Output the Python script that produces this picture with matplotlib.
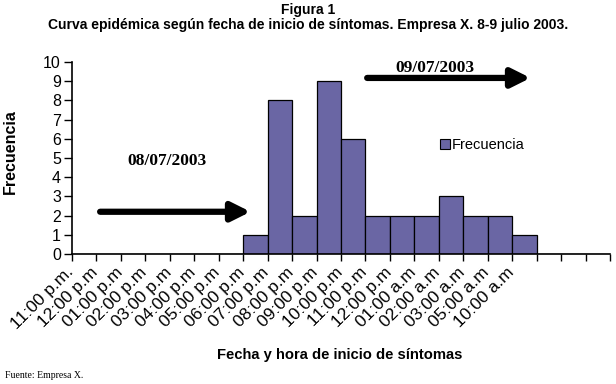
import matplotlib
matplotlib.use("Agg")
import matplotlib.pyplot as plt
import matplotlib.transforms as mtransforms
from matplotlib.patches import Patch

categories = ["11:00 p.m.", "12:00 p.m", "01:00 p.m", "02:00 p.m", "03:00 p.m",
              "04:00 p.m", "05:00 p.m", "06:00 p.m", "07:00 p.m", "08:00 p.m",
              "09:00 p.m", "10:00 p.m", "11:00 p.m", "12:00 p.m", "01:00 a.m",
              "02:00 a.m", "03:00 a.m", "05:00 a.m", "10:00 a.m", "", "", ""]
frecuencia = [0, 0, 0, 0, 0, 0, 0, 1, 8, 2, 9, 6, 2, 2, 2, 3, 2, 2, 1, 0, 0, 0]
yticks = list(range(0, 11))

bar_color = "#6a66a4"
sans = ["Liberation Sans", "DejaVu Sans"]
serif = ["Liberation Serif", "DejaVu Serif"]

fig = plt.figure(figsize=(6.16, 3.84), dpi=100)
ax = fig.add_axes([72/616, 1-254/384, 538/616, 192/384])

x = list(range(len(categories)))
ax.bar(x, frecuencia, width=1.0, color=bar_color, edgecolor="black", linewidth=0.9)

ax.set_xlim(-0.5, len(categories) - 0.5)
ax.set_ylim(0, 10)
ax.set_yticks(yticks)
ax.set_yticklabels([str(v) for v in yticks], family=sans, fontsize=11.5)
ax.set_xticks([i - 0.5 for i in range(len(categories) + 1)])
ax.set_xticklabels([])
ax.set_xticks(x, minor=True)
ax.set_xticklabels(categories, minor=True, rotation=45, ha="right", va="baseline",
                   rotation_mode="anchor", family=sans, fontsize=12.5)
ax.tick_params(axis="x", which="major", direction="out", length=5, width=1)
ax.tick_params(axis="x", which="minor", length=0, pad=0)
ax.tick_params(axis="y", direction="out", length=6, width=1, pad=2)

offset = mtransforms.ScaledTranslation(-10/100, -19/100, fig.dpi_scale_trans)
for lbl in ax.get_xticklabels(minor=True):
    lbl.set_transform(lbl.get_transform() + offset)

for s in ["top", "right"]:
    ax.spines[s].set_visible(False)
for s in ["left", "bottom"]:
    ax.spines[s].set_linewidth(1.2)

fig.text(0.5, 1-10/384, "Figura 1", ha="center", va="center", family=sans,
         fontweight="bold", fontsize=10)
fig.text(0.5, 1-25/384, "Curva epidémica según fecha de inicio de síntomas. Empresa X. 8-9 julio 2003.",
         ha="center", va="center", family=sans, fontweight="bold", fontsize=10)

fig.text(10/616, 1-152/384, "Frecuencia", rotation=90, ha="center", va="center",
         family=sans, fontweight="bold", fontsize=11.5)
fig.text(340/616, 1-355/384, "Fecha y hora de inicio de síntomas", ha="center", va="center",
         family=sans, fontweight="bold", fontsize=10.6)
fig.text(5/616, 1-376/384, "Fuente: Empresa X.", ha="left", va="center", family=serif, fontsize=7)

ax.text(3.39, 4.84, "08/07/2003", ha="center", va="center", family=serif,
        fontweight="bold", fontsize=12.5)
ax.text(14.35, 9.69, "09/07/2003", ha="center", va="center", family=serif,
        fontweight="bold", fontsize=12.5)

arrow_props = dict(arrowstyle="-|>,head_length=0.8,head_width=0.4", lw=4.5,
                   color="black", mutation_scale=14, shrinkA=0, shrinkB=0,
                   capstyle="round")
ax.annotate("", xy=(6.8, 2.2), xytext=(0.65, 2.2), arrowprops=arrow_props)
ax.annotate("", xy=(18.25, 9.17), xytext=(11.57, 9.17), arrowprops=arrow_props)

ax.legend(handles=[Patch(facecolor=bar_color, edgecolor="black", linewidth=0.8,
                         label="Frecuencia")],
          loc="center left", bbox_to_anchor=(0.66, 0.568), frameon=False,
          prop={"family": sans, "size": 10.5}, handlelength=0.65, handleheight=0.65,
          handletextpad=0.15)

fig.savefig("out.png", dpi=100)
